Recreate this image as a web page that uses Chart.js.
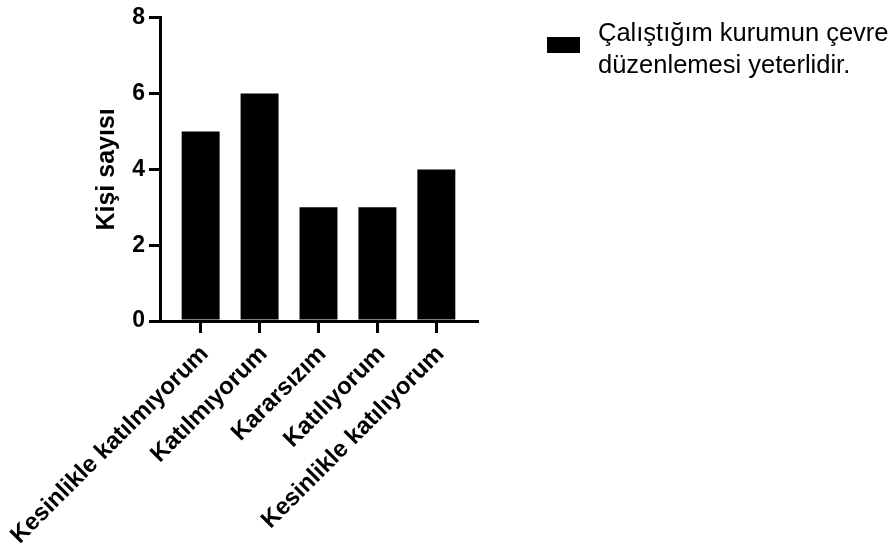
<!DOCTYPE html>
<html>
<head>
<meta charset="utf-8">
<script src="https://cdn.jsdelivr.net/npm/chart.js@4"></script>
<style>
  body { margin: 0; background: #fff; }
  #wrap { width: 893px; height: 549px; position: relative; }
</style>
</head>
<body>
<div id="wrap"><canvas id="likertChart"></canvas></div>
<script>
var categories = ['Kesinlikle katılmıyorum', 'Katılmıyorum', 'Kararsızım', 'Katılıyorum', 'Kesinlikle katılıyorum'];
var counts = [5, 6, 3, 3, 4];
var yTicks = [0, 2, 4, 6, 8];
var legendLines = ['Çalıştığım kurumun çevre', 'düzenlemesi yeterlidir.'];

var FONT = "'Liberation Sans', Arial, sans-serif";

// bars sit on a linear x axis so the axis can run past the first and last bar
var points = [];
for (var i = 0; i < counts.length; i++) {
    points.push({ x: i, y: counts[i] });
}

// legend drawn by hand: black box plus two lines of text
var sideLegend = {
    id: 'sideLegend',
    afterDraw: function(chart) {
        var ctx = chart.ctx;
        ctx.save();
        ctx.fillStyle = '#000';
        ctx.fillRect(547, 37, 33, 16);
        ctx.font = '25.5px ' + FONT;
        ctx.textBaseline = 'middle';
        ctx.textAlign = 'left';
        for (var i = 0; i < legendLines.length; i++) {
            ctx.fillText(legendLines[i], 598, 34 + i * 32);
        }
        ctx.restore();
    }
};

const ctx = document.getElementById('likertChart').getContext('2d');

const chart = new Chart(ctx, {
    type: 'bar',
    data: {
        datasets: [{
            label: legendLines.join(' '),
            data: points,
            backgroundColor: '#000',
            borderWidth: 0,
            categoryPercentage: 1,
            barPercentage: 0.644
        }]
    },
    options: {
        responsive: true,
        maintainAspectRatio: false,
        animation: false,
        layout: { padding: { top: 9, right: 416, left: 0, bottom: 0 } },
        plugins: {
            legend: { display: false },
            tooltip: { enabled: false }
        },
        scales: {
            x: {
                type: 'linear',
                offset: false,
                min: -0.69,
                max: 4.69,
                afterBuildTicks: function(axis) {
                    axis.ticks = categories.map(function(_, i) { return { value: i }; });
                },
                afterFit: function(axis) {
                    axis.height = 228;
                    // rotated labels should not push the plot to the right
                    axis.paddingLeft = 0;
                    axis.paddingRight = 0;
                },
                ticks: {
                    autoSkip: false,
                    minRotation: 45,
                    maxRotation: 45,
                    padding: 7,
                    labelOffset: 4,
                    color: '#000',
                    font: { family: FONT, size: 24, weight: 'bold' },
                    callback: function(value) { return categories[value]; }
                },
                grid: {
                    offset: false,
                    drawOnChartArea: false,
                    color: '#000',
                    lineWidth: 3,
                    tickLength: 12
                },
                border: { color: '#000', width: 3 }
            },
            y: {
                min: 0,
                max: 8,
                afterBuildTicks: function(axis) {
                    axis.ticks = yTicks.map(function(v) { return { value: v }; });
                },
                afterFit: function(axis) { axis.width = 160; },
                ticks: {
                    padding: 4,
                    color: '#000',
                    font: { family: FONT, size: 23, weight: 'bold' }
                },
                grid: {
                    drawOnChartArea: false,
                    color: '#000',
                    lineWidth: 3,
                    tickLength: 11
                },
                border: { color: '#000', width: 3 },
                title: {
                    display: true,
                    text: 'Kişi sayısı',
                    color: '#000',
                    padding: { top: 92, bottom: 0 },
                    font: { family: FONT, size: 25, weight: 'bold' }
                }
            }
        }
    },
    plugins: [sideLegend]
});
</script>
</body>
</html>
